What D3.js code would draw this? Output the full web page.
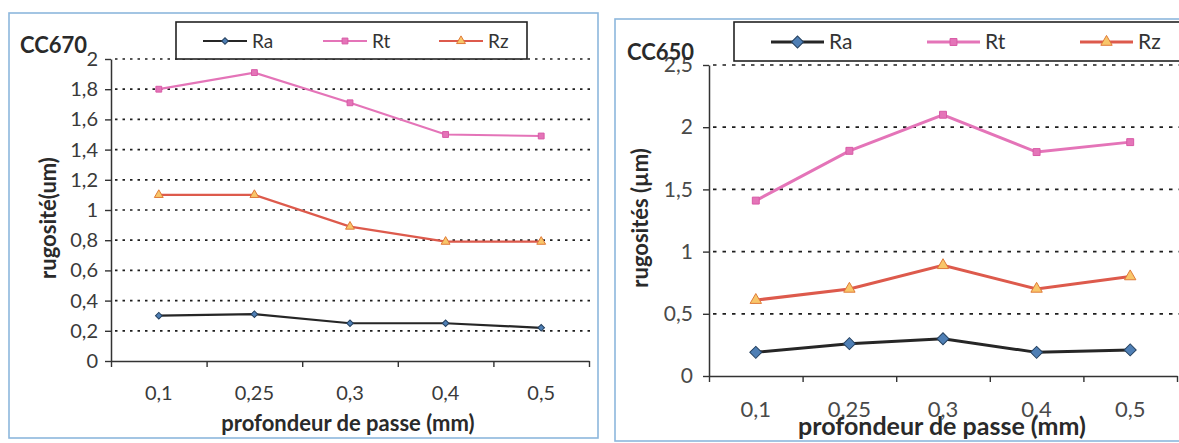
<!DOCTYPE html>
<html>
<head>
<meta charset="utf-8">
<script src="https://cdn.jsdelivr.net/npm/d3@7"></script>
<style>
  body { margin: 0; background: #fff; }
  svg { display: block; font-family: Lato, "Noto Sans", sans-serif; }
</style>
</head>
<body>
<svg id="chart" width="1179" height="443"></svg>
<script>
// categories (profondeur de passe, mm)
const categories = ["0,1", "0,25", "0,3", "0,4", "0,5"];
const seriesNames = ["Ra", "Rt", "Rz"];

// CC670
const cc670Ra = [0.30, 0.31, 0.25, 0.25, 0.22];
const cc670Rt = [1.80, 1.91, 1.71, 1.50, 1.49];
const cc670Rz = [1.10, 1.10, 0.89, 0.79, 0.79];
const cc670YTicks = [0, 0.2, 0.4, 0.6, 0.8, 1, 1.2, 1.4, 1.6, 1.8, 2];

// CC650
const cc650Ra = [0.19, 0.26, 0.30, 0.19, 0.21];
const cc650Rt = [1.41, 1.81, 2.10, 1.80, 1.88];
const cc650Rz = [0.61, 0.70, 0.89, 0.70, 0.80];
const cc650YTicks = [0, 0.5, 1, 1.5, 2, 2.5];

const fmt = d => String(d).replace(".", ",");

const svg = d3.select("#chart");

// diamond = square turned 45deg
const styles = {
    Ra: {line: "#262626", fill: "#4f7fb5", stroke: "#24405f", symbol: d3.symbolSquare, rotate: 45},
    Rt: {line: "#e474b8", fill: "#e474b8", stroke: "#d85aa6", symbol: d3.symbolSquare, rotate: 0},
    Rz: {line: "#dd5a4c", fill: "#f8c66a", stroke: "#e07a38", symbol: d3.symbolTriangle, rotate: 0}
};

function drawPanel(cfg)
{
    const g = svg.append("g");

    // frame
    g.append("rect")
        .attr("x", cfg.frame[0]).attr("y", cfg.frame[1])
        .attr("width", cfg.frame[2]).attr("height", cfg.frame[3])
        .attr("fill", "none").attr("stroke", "#8db7dd").attr("stroke-width", 1.6);

    const x = d3.scaleBand().domain(categories).range([cfg.left, cfg.right]);
    const xEdge = d3.scaleLinear().domain([0, categories.length]).range([cfg.left, cfg.right]);
    const y = d3.scaleLinear().domain([0, cfg.yMax]).range([cfg.bottom, cfg.top]);

    // dotted gridlines
    g.selectAll("line.grid")
        .data(cfg.yTicks.filter(d => d > 0))
        .join("line")
        .attr("class", "grid")
        .attr("x1", cfg.left + 4).attr("x2", cfg.gridEnd)
        .attr("y1", d => y(d)).attr("y2", d => y(d))
        .attr("stroke", "#1e1e1e").attr("stroke-width", 1.7)
        .attr("stroke-dasharray", cfg.dash);

    // y axis
    const yAxis = g.append("g")
        .attr("transform", `translate(${cfg.left},0)`)
        .call(d3.axisLeft(y).tickValues(cfg.yTicks).tickFormat(fmt)
            .tickSize(6).tickSizeOuter(0).tickPadding(cfg.yPad));
    yAxis.select(".domain").attr("stroke", "#333").attr("stroke-width", 1.5);
    yAxis.selectAll(".tick line").attr("stroke", "#333").attr("stroke-width", 1.4);
    yAxis.selectAll(".tick text")
        .attr("font-size", cfg.tickFont).attr("fill", cfg.tickColor)
        .attr("font-family", "Lato, sans-serif");

    // x axis : ticks on the category edges
    const xAxis = g.append("g")
        .attr("transform", `translate(0,${cfg.bottom})`)
        .call(d3.axisBottom(xEdge).tickValues(d3.range(categories.length + 1))
            .tickFormat("").tickSize(6).tickSizeOuter(0));
    xAxis.select(".domain").attr("stroke", "#333").attr("stroke-width", 1.5);
    xAxis.selectAll(".tick line").attr("stroke", "#333").attr("stroke-width", 1.4);

    const xLabels = g.append("g")
        .attr("transform", `translate(0,${cfg.bottom})`)
        .call(d3.axisBottom(x).tickSize(0).tickPadding(cfg.xPad));
    xLabels.select(".domain").remove();
    xLabels.selectAll(".tick text")
        .attr("font-size", cfg.xTickFont).attr("fill", cfg.tickColor)
        .attr("font-family", "Lato, sans-serif");

    // series
    const line = d3.line()
        .x((d, i) => x(categories[i]) + x.bandwidth() / 2)
        .y(d => y(d));

    seriesNames.forEach(name =>
    {
        const values = cfg.series[name];
        const st = styles[name];
        g.append("path")
            .attr("d", line(values))
            .attr("fill", "none")
            .attr("stroke", st.line)
            .attr("stroke-width", cfg.lineWidth);

        g.selectAll(null)
            .data(values)
            .join("path")
            .attr("transform", (d, i) => `translate(${x(categories[i]) + x.bandwidth() / 2},${y(d)}) rotate(${st.rotate})`)
            .attr("d", d3.symbol().type(st.symbol).size(cfg.markerSize[name]))
            .attr("fill", st.fill)
            .attr("stroke", st.stroke)
            .attr("stroke-width", 1);
    });

    // legend
    const lg = cfg.legend;
    g.append("rect")
        .attr("x", lg.box[0]).attr("y", lg.box[1])
        .attr("width", lg.box[2]).attr("height", lg.box[3])
        .attr("fill", "#fff").attr("stroke", "#222").attr("stroke-width", 1.6);

    seriesNames.forEach((name, i) =>
    {
        const st = styles[name];
        const lx = lg.items[i];
        g.append("line")
            .attr("x1", lx).attr("x2", lx + lg.lineLen)
            .attr("y1", lg.lineY).attr("y2", lg.lineY)
            .attr("stroke", st.line).attr("stroke-width", cfg.lineWidth);
        g.append("path")
            .attr("transform", `translate(${lx + lg.lineLen / 2},${lg.lineY}) rotate(${st.rotate})`)
            .attr("d", d3.symbol().type(st.symbol).size(cfg.markerSize[name]))
            .attr("fill", st.fill).attr("stroke", st.stroke).attr("stroke-width", 1);
        g.append("text")
            .attr("x", lx + lg.lineLen + 5).attr("y", lg.textY)
            .attr("font-size", lg.font).attr("fill", "#333")
            .text(name);
    });

    // titles
    g.append("text")
        .attr("x", cfg.title[0]).attr("y", cfg.title[1])
        .attr("font-size", cfg.titleFont).attr("font-weight", "bold").attr("fill", "#2a2a2a")
        .text(cfg.name);

    g.append("text")
        .attr("transform", `translate(${cfg.yLabel[0]},${cfg.yLabel[1]}) rotate(-90)`)
        .attr("text-anchor", "middle")
        .attr("font-size", cfg.yLabelFont).attr("font-weight", "bold").attr("fill", "#2a2a2a")
        .text(cfg.yLabelText);

    g.append("text")
        .attr("x", cfg.xLabel[0]).attr("y", cfg.xLabel[1])
        .attr("text-anchor", "middle")
        .attr("font-size", cfg.xLabelFont).attr("font-weight", "bold").attr("fill", "#2a2a2a")
        .text("profondeur de passe (mm)");
}

drawPanel({
    name: "CC670",
    series: {Ra: cc670Ra, Rt: cc670Rt, Rz: cc670Rz},
    yTicks: cc670YTicks, yMax: 2,
    left: 111, right: 589, top: 59, bottom: 361, gridEnd: 594,
    frame: [9, 13, 589, 425],
    dash: "2.5,5",
    yPad: 7, xPad: 25,
    tickFont: 20, xTickFont: 20, tickColor: "#3a3a3a",
    lineWidth: 2.2,
    markerSize: {Ra: 22, Rt: 34, Rz: 34},
    legend: {box: [176, 22, 351, 37], items: [203, 323, 439], lineLen: 44, lineY: 41, textY: 48, font: 19},
    title: [20, 53], titleFont: 22,
    yLabel: [56, 218], yLabelFont: 22, yLabelText: "rugosité(um)",
    xLabel: [348, 431], xLabelFont: 22
});

drawPanel({
    name: "CC650",
    series: {Ra: cc650Ra, Rt: cc650Rt, Rz: cc650Rz},
    yTicks: cc650YTicks, yMax: 2.5,
    left: 709, right: 1177, top: 65, bottom: 376, gridEnd: 1179,
    frame: [615, 19, 600, 422],
    dash: "3.5,6",
    yPad: 10, xPad: 25,
    tickFont: 21, xTickFont: 22, tickColor: "#4a4a4a",
    lineWidth: 3,
    markerSize: {Ra: 72, Rt: 48, Rz: 56},
    legend: {box: [734, 22, 460, 39], items: [771, 927, 1080], lineLen: 53, lineY: 42, textY: 49, font: 21},
    title: [627, 60], titleFont: 22,
    yLabel: [648, 218], yLabelFont: 22, yLabelText: "rugosités (µm)",
    xLabel: [942, 435], xLabelFont: 25
});
</script>
</body>
</html>
